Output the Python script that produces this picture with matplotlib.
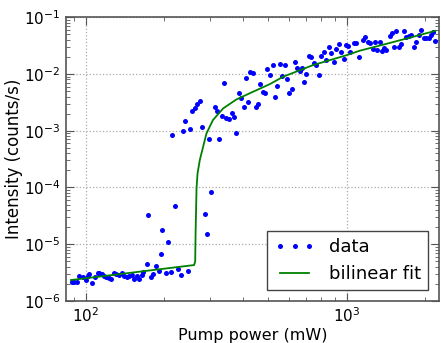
import matplotlib
matplotlib.use("Agg")
import matplotlib.pyplot as plt

# measured points (pump power in mW, intensity in counts/s)
power = [88.4, 90.2, 92.1, 94.3, 97.6, 100, 101.5, 103, 105.4, 108.6,
         110.9, 112.5, 115.2, 117.5, 119.3, 122.2, 124.7, 128.4, 130.3, 134.2,
         137.4, 140.2, 143.5, 146.5, 149.6, 153.1, 156.4, 160.0, 163.5, 166.3,
         170.9, 173.3, 177.5, 181.1, 185.5, 189.9, 193.7, 195, 202.5, 205.6,
         211.7, 219.3, 226.5, 231.1, 245.3, 285, 291.6, 303,
         214.8, 234.8, 240.3, 250.4, 255.5, 261.6, 267, 273.4, 278.3, 296.8,
         312.1, 317.7, 324.2, 332.8, 338.8, 345.9, 354, 362.5, 369, 378,
         385.5, 392.6, 402.8, 411, 420.2, 427.6, 437.5, 448, 457, 465.5,
         477.8, 488, 496.6, 508, 520.6, 531, 542.7, 553.6, 567, 580,
         590, 601, 619.5, 632, 645, 660.7, 674, 686, 701, 717,
         732, 747, 765.5, 781, 800, 816, 836, 853, 873.6, 891,
         907, 932, 954, 973.8, 991, 1011, 1033, 1064, 1090, 1113,
         1155, 1179, 1206, 1232, 1261, 1280, 1306, 1337, 1365, 1389,
         1418, 1462, 1492, 1518, 1549, 1585, 1621, 1658, 1694, 1729,
         1770, 1806, 1843, 1888, 1932, 1977, 2018, 2060, 2098, 2141,
         2188]
intensity = [2.19e-6, 2.13e-6, 2.13e-6, 2.75e-6, 2.61e-6, 2.34e-6, 2.75e-6, 2.95e-6, 2.05e-6, 2.61e-6,
             3.07e-6, 3.07e-6, 2.95e-6, 2.79e-6, 2.68e-6, 2.51e-6, 2.41e-6, 3.07e-6, 2.99e-6, 2.87e-6,
             3.07e-6, 2.75e-6, 2.61e-6, 2.75e-6, 2.87e-6, 2.41e-6, 2.79e-6, 2.41e-6, 2.87e-6, 3.28e-6,
             4.48e-6, 3.27e-5, 2.61e-6, 2.99e-6, 4.13e-6, 3.42e-6, 6.64e-6, 1.78e-5, 3.07e-6, 1.08e-5,
             3.28e-6, 4.76e-5, 3.61e-6, 2.87e-6, 3.37e-6, 3.36e-5, 1.49e-5, 8.4e-5,
             8.26e-4, 9.97e-4, 1.46e-3, 1.05e-3, 2.18e-3, 2.53e-3, 2.9e-3, 3.32e-3, 1.14e-3, 7.11e-4,
             2.63e-3, 2.21e-3, 7.11e-4, 1.83e-3, 6.98e-3, 1.69e-3, 1.62e-3, 2.07e-3, 1.76e-3, 9.2e-4,
             4.54e-3, 3.8e-3, 2.63e-3, 8.33e-3, 3.23e-3, 1.09e-2, 1.05e-2, 2.57e-3, 2.9e-3, 6.6e-3,
             4.78e-3, 4.7e-3, 1.2e-2, 9.66e-3, 1.41e-2, 3.86e-3, 6.18e-3, 1.5e-2, 9.15e-3, 1.41e-2,
             8.0e-3, 4.7e-3, 5.4e-3, 1.59e-2, 1.25e-2, 1.12e-2, 1.28e-2, 7.26e-3, 9.9e-3, 2.08e-2,
             1.95e-2, 1.57e-2, 1.43e-2, 9.5e-3, 2.08e-2, 2.45e-2, 1.75e-2, 3.0e-2, 2.3e-2, 1.59e-2,
             2.7e-2, 3.35e-2, 2.39e-2, 1.8e-2, 3.21e-2, 3.14e-2, 2.45e-2, 3.44e-2, 3.44e-2, 1.95e-2,
             3.94e-2, 4.5e-2, 3.67e-2, 3.53e-2, 2.7e-2, 3.58e-2, 2.62e-2, 3.58e-2, 2.52e-2, 2.88e-2,
             2.62e-2, 4.69e-2, 5.29e-2, 2.99e-2, 5.67e-2, 2.99e-2, 3.35e-2, 5.67e-2, 4.5e-2, 4.69e-2,
             4.82e-2, 2.99e-2, 3.67e-2, 4.82e-2, 5.9e-2, 4.22e-2, 4.3e-2, 4.38e-2, 4.82e-2, 5.51e-2,
             3.78e-2]

# bilinear fit curve
fit_power = [87.6, 260, 262.5, 263.4, 265.6, 268, 273.4, 277.4, 290, 307,
             336, 378, 437, 507, 570, 743, 1000, 1118, 1439, 2189]
fit_intensity = [2.34e-6, 4.3e-6, 5.0e-6, 1.56e-5, 9.6e-5, 1.77e-4, 3.04e-4, 3.98e-4, 8.96e-4, 1.54e-3,
                 2.47e-3, 3.56e-3, 4.84e-3, 6.6e-3, 8.9e-3, 1.43e-2, 2.14e-2, 2.55e-2, 3.44e-2, 5.74e-2]

plt.rcParams["axes.unicode_minus"] = False
plt.rcParams["xtick.direction"] = "in"
plt.rcParams["ytick.direction"] = "in"

fig = plt.figure(figsize=(4.41, 3.43), dpi=100)
ax = fig.add_axes([0.150, 0.1224, 0.8455, 0.8276])

ax.plot(power, intensity, "o", color="#0000ff", markersize=3.6, markeredgewidth=0, label="data")
ax.plot(fit_power, fit_intensity, "-", color="#008000", linewidth=1.3, label="bilinear fit")

ax.set_xscale("log")
ax.set_yscale("log")
ax.set_xlim(84, 2260)
ax.set_ylim(1e-6, 1e-1)

ax.grid(True, which="major", linestyle=":", color="#aaaaaa", linewidth=0.9)
for s in ax.spines.values():
    s.set_color("#555555")
    s.set_linewidth(1.2)
ax.tick_params(which="both", top=True, right=True, labelsize=11, color="#555555")
ax.tick_params(which="major", length=6, pad=4)
ax.tick_params(which="minor", length=3)

ax.set_xlabel("Pump power (mW)", fontsize=11.5, labelpad=2)
ax.set_ylabel("Intensity (counts/s)", fontsize=12, labelpad=1)

leg = ax.legend(loc="lower right", numpoints=3, fontsize=13, fancybox=False,
                framealpha=1, edgecolor="#444444", borderaxespad=0.6, handlelength=2.2)
leg.legend_handles[0].set_markersize(3.6)
leg.get_frame().set_linewidth(1.0)

fig.savefig("out.png", dpi=100)
